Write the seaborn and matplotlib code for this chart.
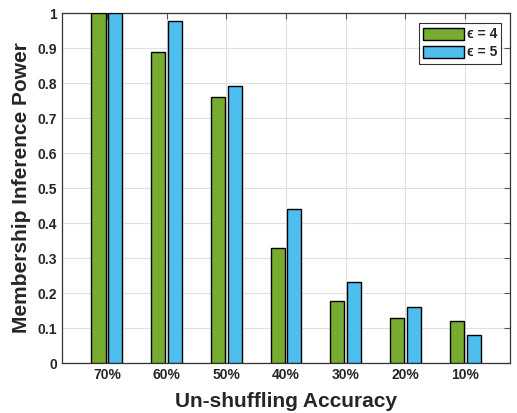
import matplotlib
matplotlib.use("Agg")
import matplotlib.pyplot as plt
import seaborn as sns
import pandas as pd

categories = ['70%', '60%', '50%', '40%', '30%', '20%', '10%']
eps4 = [1.0, 0.888, 0.761, 0.328, 0.176, 0.128, 0.119]
eps5 = [1.0, 0.978, 0.792, 0.439, 0.232, 0.159, 0.079]
series = ['ϵ = 4', 'ϵ = 5']
colors = ['#77AC30', '#4DBEEE']

df = pd.DataFrame({
    'acc': categories * 2,
    'power': eps4 + eps5,
    'eps': [series[0]] * len(categories) + [series[1]] * len(categories),
})

sns.set_style('white')
plt.rcParams['font.family'] = ['Liberation Sans', 'DejaVu Sans']
plt.rcParams['font.weight'] = 'bold'

fig = plt.figure(figsize=(5.17, 4.13), dpi=100)
ax = fig.add_axes([0.12, 0.121, 0.8665, 0.8475])

sns.barplot(data=df, x='acc', y='power', hue='eps', palette=colors,
            width=0.56, gap=0.16, edgecolor='black', linewidth=1.0,
            saturation=1, ax=ax, zorder=3)

ax.set_xlim(-0.75, 6.75)
ax.set_ylim(0, 1)
ax.set_yticks([i / 10 for i in range(11)])
ax.set_yticklabels(['0', '0.1', '0.2', '0.3', '0.4', '0.5', '0.6', '0.7', '0.8', '0.9', '1'])
ax.grid(True, color='#e0e0e0', linewidth=0.8, zorder=0)
ax.set_axisbelow(True)
ax.tick_params(direction='in', length=4, top=True, right=True, color='#555555',
               labelsize=10, labelcolor='#262626', width=0.8)
for lab in ax.get_xticklabels() + ax.get_yticklabels():
    lab.set_fontweight('bold')
for sp in ax.spines.values():
    sp.set_color('#333333')
    sp.set_linewidth(0.9)

ax.set_xlabel('Un-shuffling Accuracy', fontsize=15, fontweight='bold', color='#262626', labelpad=7)
ax.set_ylabel('Membership Inference Power', fontsize=15, fontweight='bold', color='#262626', labelpad=5)

leg = ax.legend(loc='upper right', bbox_to_anchor=(0.98, 0.971), fontsize=10,
                frameon=True, fancybox=False, edgecolor='black', handlelength=3.0,
                handleheight=0.95, handletextpad=0.15, borderpad=0.3, labelspacing=0.3,
                borderaxespad=0)
leg.get_frame().set_linewidth(0.8)
for t in leg.get_texts():
    t.set_fontweight('bold')

fig.savefig('out.png', dpi=100)
